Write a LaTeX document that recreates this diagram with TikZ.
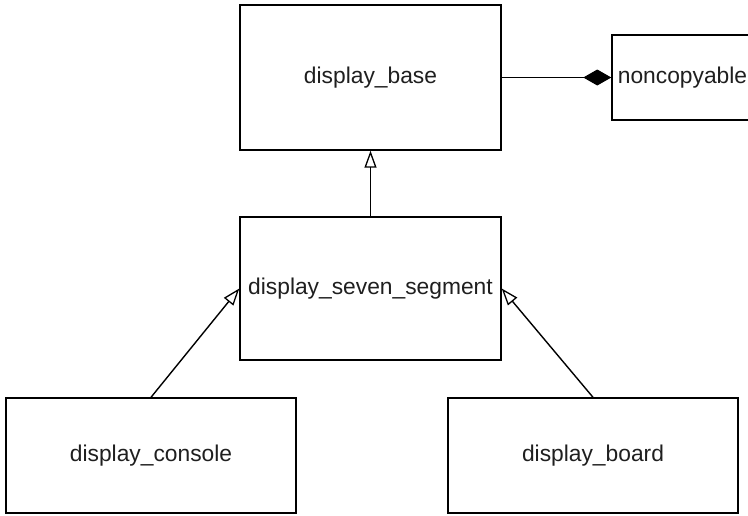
\documentclass[tikz,border=0pt]{standalone}
\usepackage{fontspec}
\setmainfont{Liberation Sans}
\usetikzlibrary{arrows.meta}
\begin{document}
\begin{tikzpicture}[x=1pt,y=-1pt,
  cls/.style={draw=black,line width=1.4pt,fill=white,inner sep=0pt,text=black!88,
    font=\fontsize{22.8}{27}\selectfont},
  inherit/.style={draw=black,line width=1.4pt,-{Triangle[open,length=17pt,width=12pt,line width=1.3pt]}},
  compose/.style={draw=black,line width=1.4pt,-{Diamond[length=28pt,width=16pt]}}]
\useasboundingbox (0,0) rectangle (748,515);
\clip (0,0) rectangle (748,515);
\node[cls,minimum width=261pt,minimum height=145pt] (base) at (370.5,77.5) {display\_base};
\node[cls,minimum width=141pt,minimum height=85pt] (nc) at (682.5,77.5) {noncopyable};
\node[cls,minimum width=261pt,minimum height=143pt] (seg) at (370.5,288.5) {display\_seven\_segment};
\node[cls,minimum width=290pt,minimum height=115pt] (con) at (151,455.5) {display\_console};
\node[cls,minimum width=290pt,minimum height=115pt] (brd) at (593,455.5) {display\_board};
\draw[compose] (base.east) -- (nc.west);
\draw[inherit] (seg.north) -- (base.south);
\draw[inherit] (con.north) -- (seg.west);
\draw[inherit] (brd.north) -- (seg.east);
\end{tikzpicture}
\end{document}
